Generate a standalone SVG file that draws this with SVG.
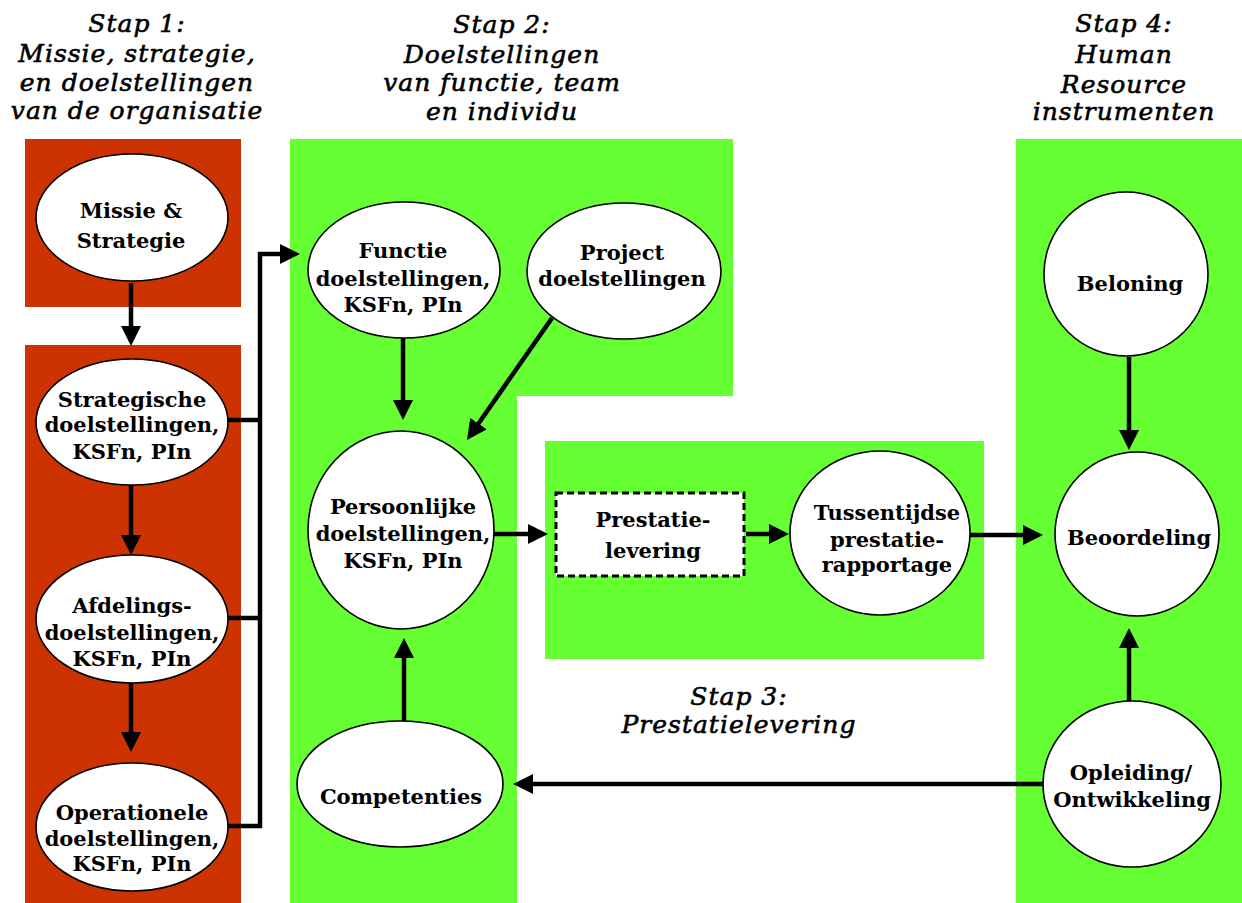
<svg xmlns="http://www.w3.org/2000/svg" width="1242" height="903" viewBox="0 0 1242 903">
<style>
.red{fill:#CC3300}
.green{fill:#66FF33}
.node{fill:#fff;stroke:#000;stroke-width:1.6}
.lbl{font-family:"DejaVu Serif","Liberation Serif",serif;font-weight:bold;font-size:21px;fill:#000;text-anchor:middle}
.head{font-family:"DejaVu Serif","Liberation Serif",serif;font-style:italic;font-size:25px;letter-spacing:1px;fill:#000;stroke:#000;stroke-width:0.6;text-anchor:middle}
.conn{fill:none;stroke:#000;stroke-width:4.5}
</style>
<defs>
<marker id="ah" markerUnits="userSpaceOnUse" markerWidth="20" markerHeight="20" refX="2" refY="10" orient="auto">
<path d="M0,0 L20,10 L0,20 z" fill="#000"/>
</marker>
</defs>
<rect width="1242" height="903" fill="#fff"/>
<g id="backgrounds">
<rect class="red" x="25" y="139" width="216" height="168"/>
<rect class="red" x="25" y="345" width="216" height="558"/>
<polygon class="green" points="290,139 733,139 733,396 517,396 517,903 290,903"/>
<rect class="green" x="545" y="441" width="439" height="218"/>
<rect class="green" x="1016" y="139" width="226" height="764"/>
</g>
<g id="headings">
<text class="head"><tspan x="137" y="32">Stap 1:</tspan><tspan x="137" y="62">Missie, strategie,</tspan><tspan x="137" y="91">en doelstellingen</tspan><tspan x="137" y="119">van de organisatie</tspan></text>
<text class="head"><tspan x="502" y="33">Stap 2:</tspan><tspan x="502" y="63">Doelstellingen</tspan><tspan x="502" y="91">van functie, team</tspan><tspan x="502" y="120">en individu</tspan></text>
<text class="head"><tspan x="739" y="705">Stap 3:</tspan><tspan x="739" y="733">Prestatielevering</tspan></text>
<text class="head"><tspan x="1124" y="32">Stap 4:</tspan><tspan x="1124" y="63">Human</tspan><tspan x="1124" y="93">Resource</tspan><tspan x="1124" y="120">instrumenten</tspan></text>
</g>
<g id="connectors">
<path class="conn" d="M131,283 V328" marker-end="url(#ah)"/>
<path class="conn" d="M131,484 V537" marker-end="url(#ah)"/>
<path class="conn" d="M131,682 V734" marker-end="url(#ah)"/>
<path class="conn" d="M228,420 H260"/>
<path class="conn" d="M228,618 H260"/>
<path class="conn" d="M228,826 H260 V254 H282" marker-end="url(#ah)"/>
<path class="conn" d="M403,338 V402" marker-end="url(#ah)"/>
<path class="conn" d="M552,318 L477.3,425.2" marker-end="url(#ah)"/>
<path class="conn" d="M494,534 H530" marker-end="url(#ah)"/>
<path class="conn" d="M746,534 H771" marker-end="url(#ah)"/>
<path class="conn" d="M969,535 H1025" marker-end="url(#ah)"/>
<path class="conn" d="M1129,357 V432" marker-end="url(#ah)"/>
<path class="conn" d="M1129,701 V646" marker-end="url(#ah)"/>
<path class="conn" d="M1043,784 H531" marker-end="url(#ah)"/>
<path class="conn" d="M404,721 V656" marker-end="url(#ah)"/>
</g>
<g id="missie">
<ellipse class="node" cx="132" cy="217.5" rx="96" ry="63.5"/>
<text class="lbl"><tspan x="131" y="218">Missie &amp;</tspan><tspan x="131" y="248">Strategie</tspan></text>
</g>
<g id="strategische">
<ellipse class="node" cx="132" cy="422" rx="96" ry="63"/>
<text class="lbl"><tspan x="132" y="407">Strategische</tspan><tspan x="132" y="432">doelstellingen,</tspan><tspan x="132" y="459">KSFn, PIn</tspan></text>
</g>
<g id="afdelings">
<ellipse class="node" cx="132" cy="619" rx="96" ry="64"/>
<text class="lbl"><tspan x="132" y="613">Afdelings-</tspan><tspan x="132" y="640">doelstellingen,</tspan><tspan x="132" y="666">KSFn, PIn</tspan></text>
</g>
<g id="operationele">
<ellipse class="node" cx="132" cy="827" rx="96" ry="64"/>
<text class="lbl"><tspan x="132" y="820">Operationele</tspan><tspan x="132" y="846">doelstellingen,</tspan><tspan x="132" y="871">KSFn, PIn</tspan></text>
</g>
<g id="functie">
<ellipse class="node" cx="404" cy="270" rx="96" ry="68"/>
<text class="lbl"><tspan x="403" y="258">Functie</tspan><tspan x="403" y="286">doelstellingen,</tspan><tspan x="403" y="312">KSFn, PIn</tspan></text>
</g>
<g id="project">
<ellipse class="node" cx="624" cy="271" rx="97" ry="68"/>
<text class="lbl"><tspan x="622" y="260">Project</tspan><tspan x="622" y="286">doelstellingen</tspan></text>
</g>
<g id="persoonlijke">
<ellipse class="node" cx="401" cy="530" rx="93" ry="99"/>
<text class="lbl"><tspan x="403" y="514">Persoonlijke</tspan><tspan x="403" y="541">doelstellingen,</tspan><tspan x="403" y="568">KSFn, PIn</tspan></text>
</g>
<g id="competenties">
<ellipse class="node" cx="400" cy="784" rx="103" ry="63"/>
<text class="lbl" x="401" y="804">Competenties</text>
</g>
<g id="prestatie">
<rect x="556" y="493" width="188" height="83" fill="#fff" stroke="#000" stroke-width="3" stroke-dasharray="7,4"/>
<text class="lbl"><tspan x="653" y="527">Prestatie-</tspan><tspan x="653" y="558">levering</tspan></text>
</g>
<g id="tussentijdse">
<ellipse class="node" cx="880" cy="533" rx="90" ry="82"/>
<text class="lbl"><tspan x="887" y="520">Tussentijdse</tspan><tspan x="887" y="547">prestatie-</tspan><tspan x="887" y="572">rapportage</tspan></text>
</g>
<g id="beloning">
<circle class="node" cx="1126" cy="274" r="82"/>
<text class="lbl" x="1130" y="291">Beloning</text>
</g>
<g id="beoordeling">
<circle class="node" cx="1137" cy="534" r="82"/>
<text class="lbl" x="1139" y="545">Beoordeling</text>
</g>
<g id="opleiding">
<ellipse class="node" cx="1132" cy="784" rx="89" ry="83"/>
<text class="lbl"><tspan x="1131" y="780">Opleiding/</tspan><tspan x="1132" y="807">Ontwikkeling</tspan></text>
</g>
</svg>
